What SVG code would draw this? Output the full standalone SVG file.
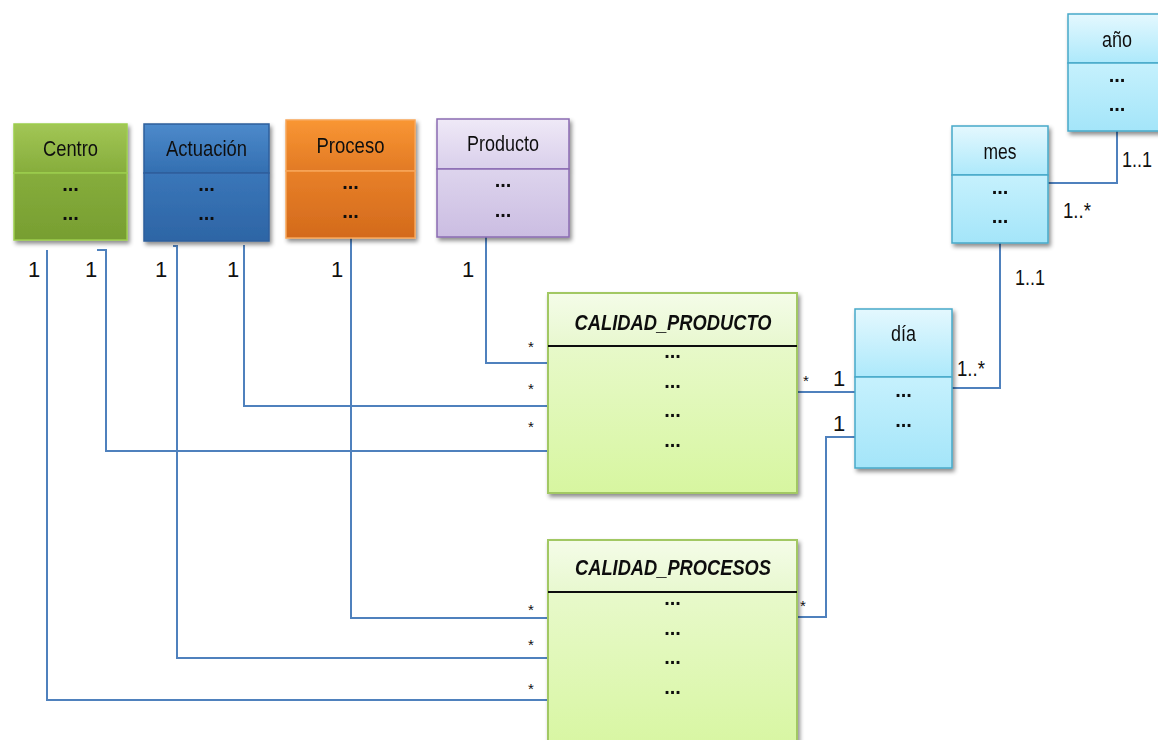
<svg xmlns="http://www.w3.org/2000/svg" width="1158" height="740" viewBox="0 0 1158 740">
<defs>
<filter id="sh" x="-10%" y="-10%" width="130%" height="130%"><feDropShadow dx="2" dy="3" stdDeviation="2" flood-color="#000" flood-opacity="0.45"/></filter>
<linearGradient id="gH" x1="0" y1="0" x2="0" y2="1"><stop offset="0" stop-color="#a2c655"/><stop offset="1" stop-color="#86ad3c"/></linearGradient>
<linearGradient id="gB" x1="0" y1="0" x2="0" y2="1"><stop offset="0" stop-color="#86ad3c"/><stop offset="1" stop-color="#779e31"/></linearGradient>
<linearGradient id="bH" x1="0" y1="0" x2="0" y2="1"><stop offset="0" stop-color="#4d8acb"/><stop offset="1" stop-color="#336fb1"/></linearGradient>
<linearGradient id="bB" x1="0" y1="0" x2="0" y2="1"><stop offset="0" stop-color="#3a76b9"/><stop offset="1" stop-color="#2d65a5"/></linearGradient>
<linearGradient id="oH" x1="0" y1="0" x2="0" y2="1"><stop offset="0" stop-color="#f99633"/><stop offset="1" stop-color="#e27a25"/></linearGradient>
<linearGradient id="oB" x1="0" y1="0" x2="0" y2="1"><stop offset="0" stop-color="#e88028"/><stop offset="1" stop-color="#d36a1c"/></linearGradient>
<linearGradient id="pH" x1="0" y1="0" x2="0" y2="1"><stop offset="0" stop-color="#efe9f7"/><stop offset="1" stop-color="#d9cfeb"/></linearGradient>
<linearGradient id="pB" x1="0" y1="0" x2="0" y2="1"><stop offset="0" stop-color="#ddd4ed"/><stop offset="1" stop-color="#cbbde2"/></linearGradient>
<linearGradient id="cH" x1="0" y1="0" x2="0" y2="1"><stop offset="0" stop-color="#e4f8fe"/><stop offset="1" stop-color="#ade9fb"/></linearGradient>
<linearGradient id="cB" x1="0" y1="0" x2="0" y2="1"><stop offset="0" stop-color="#c6f1fd"/><stop offset="1" stop-color="#a4e5f9"/></linearGradient>
<linearGradient id="lH" x1="0" y1="0" x2="0" y2="1"><stop offset="0" stop-color="#f4fce8"/><stop offset="1" stop-color="#e8f8cf"/></linearGradient>
<linearGradient id="lB" x1="0" y1="0" x2="0" y2="1"><stop offset="0" stop-color="#edfad8"/><stop offset="1" stop-color="#d7f6a0"/></linearGradient>
</defs>
<style>
text{font-family:"Liberation Sans",Arial,sans-serif;fill:#111}
.t{font-size:22px;text-anchor:middle}
.d{font-size:20px;font-weight:bold;text-anchor:middle}
.h{font-size:22px;font-weight:bold;font-style:italic;text-anchor:middle}
.m{font-size:22px}
.s{font-size:15px}
.con{fill:none;stroke:#4f81bd;stroke-width:2}
.div{stroke:#111;stroke-width:2}
</style>

<g id="connectors">
<path class="con" d="M47,250 V700 H548"/>
<path class="con" d="M97,250 H106 V451 H548"/>
<path class="con" d="M173,246 H177 V658 H548"/>
<path class="con" d="M244,245 V406 H548"/>
<path class="con" d="M351,238 V618 H548"/>
<path class="con" d="M486,237 V363 H548 V381"/>
<path class="con" d="M798,392 H855"/>
<path class="con" d="M855,437 H826 V617 H797"/>
<path class="con" d="M952,388 H1000 V243"/>
<path class="con" d="M1048,183 H1117 V131"/>
</g>

<g id="centro" filter="url(#sh)">
<rect x="14" y="124" width="113" height="49" fill="url(#gH)" stroke="#9ccd4c" stroke-width="1.5"/>
<rect x="14" y="173" width="113" height="67" fill="url(#gB)" stroke="#9ccd4c" stroke-width="1.5"/>
<text class="t" x="70.5" y="156" textLength="55" lengthAdjust="spacingAndGlyphs">Centro</text>
<text class="d" x="70.5" y="191">...</text>
<text class="d" x="70.5" y="220">...</text>
</g>

<g id="actuacion" filter="url(#sh)">
<rect x="144" y="124" width="125" height="49" fill="url(#bH)" stroke="#2e5f9c" stroke-width="1.5"/>
<rect x="144" y="173" width="125" height="68" fill="url(#bB)" stroke="#2e5f9c" stroke-width="1.5"/>
<text class="t" x="206.5" y="156" textLength="81" lengthAdjust="spacingAndGlyphs">Actuación</text>
<text class="d" x="206.5" y="191">...</text>
<text class="d" x="206.5" y="220">...</text>
</g>

<g id="proceso" filter="url(#sh)">
<rect x="286" y="120" width="129" height="51" fill="url(#oH)" stroke="#f7a65a" stroke-width="1.5"/>
<rect x="286" y="171" width="129" height="67" fill="url(#oB)" stroke="#f7a65a" stroke-width="1.5"/>
<text class="t" x="350.5" y="153" textLength="68" lengthAdjust="spacingAndGlyphs">Proceso</text>
<text class="d" x="350.5" y="189">...</text>
<text class="d" x="350.5" y="218">...</text>
</g>

<g id="producto" filter="url(#sh)">
<rect x="437" y="119" width="132" height="50" fill="url(#pH)" stroke="#8a6bb2" stroke-width="1.5"/>
<rect x="437" y="169" width="132" height="68" fill="url(#pB)" stroke="#8a6bb2" stroke-width="1.5"/>
<text class="t" x="503" y="151" textLength="72" lengthAdjust="spacingAndGlyphs">Producto</text>
<text class="d" x="503" y="187">...</text>
<text class="d" x="503" y="217">...</text>
</g>

<g id="anio" filter="url(#sh)">
<rect x="1068" y="14" width="100" height="49" fill="url(#cH)" stroke="#47a9c9" stroke-width="1.5"/>
<rect x="1068" y="63" width="100" height="68" fill="url(#cB)" stroke="#47a9c9" stroke-width="1.5"/>
<text class="t" x="1117" y="47" textLength="30" lengthAdjust="spacingAndGlyphs">año</text>
<text class="d" x="1117" y="82">...</text>
<text class="d" x="1117" y="111">...</text>
</g>

<g id="mes" filter="url(#sh)">
<rect x="952" y="126" width="96" height="49" fill="url(#cH)" stroke="#47a9c9" stroke-width="1.5"/>
<rect x="952" y="175" width="96" height="68" fill="url(#cB)" stroke="#47a9c9" stroke-width="1.5"/>
<text class="t" x="1000" y="159" textLength="33" lengthAdjust="spacingAndGlyphs">mes</text>
<text class="d" x="1000" y="194">...</text>
<text class="d" x="1000" y="223">...</text>
</g>

<g id="dia" filter="url(#sh)">
<rect x="855" y="309" width="97" height="68" fill="url(#cH)" stroke="#47a9c9" stroke-width="1.5"/>
<rect x="855" y="377" width="97" height="91" fill="url(#cB)" stroke="#47a9c9" stroke-width="1.5"/>
<text class="t" x="903.5" y="341" textLength="25" lengthAdjust="spacingAndGlyphs">día</text>
<text class="d" x="903.5" y="397">...</text>
<text class="d" x="903.5" y="427">...</text>
</g>

<g id="calidad_producto" filter="url(#sh)">
<rect x="548" y="293" width="249" height="200" fill="url(#lB)" stroke="#a2c864" stroke-width="2"/>
<rect x="549" y="294" width="247" height="52" fill="url(#lH)"/>
<line class="div" x1="548" y1="346" x2="797" y2="346"/>
<text class="h" x="673" y="330" textLength="197" lengthAdjust="spacingAndGlyphs">CALIDAD_PRODUCTO</text>
<text class="d" x="672.5" y="358">...</text>
<text class="d" x="672.5" y="388">...</text>
<text class="d" x="672.5" y="417">...</text>
<text class="d" x="672.5" y="447">...</text>
</g>

<g id="calidad_procesos" filter="url(#sh)">
<rect x="548" y="540" width="249" height="215" fill="url(#lB)" stroke="#a2c864" stroke-width="2"/>
<rect x="549" y="541" width="247" height="51" fill="url(#lH)"/>
<line class="div" x1="548" y1="592" x2="797" y2="592"/>
<text class="h" x="673" y="575" textLength="196" lengthAdjust="spacingAndGlyphs">CALIDAD_PROCESOS</text>
<text class="d" x="672.5" y="605">...</text>
<text class="d" x="672.5" y="635">...</text>
<text class="d" x="672.5" y="664">...</text>
<text class="d" x="672.5" y="694">...</text>
</g>

<g id="multiplicities">
<text class="m" x="28" y="277">1</text>
<text class="m" x="85" y="277">1</text>
<text class="m" x="155" y="277">1</text>
<text class="m" x="227" y="277">1</text>
<text class="m" x="331" y="277">1</text>
<text class="m" x="462" y="277">1</text>
<text class="s" x="528" y="352">*</text>
<text class="s" x="528" y="394">*</text>
<text class="s" x="528" y="432">*</text>
<text class="s" x="528" y="615">*</text>
<text class="s" x="528" y="650">*</text>
<text class="s" x="528" y="694">*</text>
<text class="s" x="803" y="386">*</text>
<text class="m" x="833" y="386">1</text>
<text class="m" x="833" y="431">1</text>
<text class="s" x="800" y="611">*</text>
<text class="m" x="957" y="376" textLength="28" lengthAdjust="spacingAndGlyphs">1..*</text>
<text class="m" x="1015" y="285" textLength="30" lengthAdjust="spacingAndGlyphs">1..1</text>
<text class="m" x="1122" y="167" textLength="30" lengthAdjust="spacingAndGlyphs">1..1</text>
<text class="m" x="1063" y="218" textLength="28" lengthAdjust="spacingAndGlyphs">1..*</text>
</g>
</svg>
